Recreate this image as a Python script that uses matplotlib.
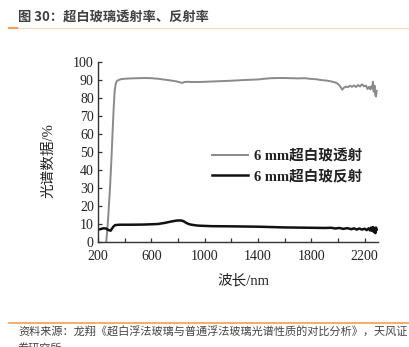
import matplotlib
matplotlib.use('Agg')
import matplotlib.pyplot as plt
from matplotlib.lines import Line2D

# === 光谱数据 (波长 nm, %) ===
trans_wl = [262, 275, 290, 300, 310, 318, 325, 333, 340, 355, 370, 400, 450, 500, 550,
            600, 650, 700, 750, 790, 810, 830, 850, 870, 900, 950, 1000, 1100, 1200,
            1300, 1400, 1450, 1500, 1550, 1600, 1650, 1700, 1750, 1800, 1840, 1870,
            1900, 1930, 1960, 1985, 2005, 2020, 2032, 2045, 2060, 2075, 2090, 2105,
            2120, 2135, 2150, 2165, 2180, 2195, 2210, 2222, 2232, 2242, 2250, 2256,
            2262, 2268, 2274, 2280, 2285, 2290]
trans_val = [0, 12, 30, 45, 62, 75, 84, 88, 89.3, 90.0, 90.4, 90.7, 90.9, 91.0, 91.1,
             91.0, 90.7, 90.2, 89.7, 89.2, 88.8, 88.4, 88.9, 89.0, 88.9, 88.9, 89.0,
             89.3, 89.6, 90.0, 90.3, 90.7, 91.0, 91.1, 91.1, 91.0, 90.9, 91.0, 90.6,
             90.4, 90.0, 89.8, 89.5, 89.0, 88.5, 87.5, 86.0, 84.6, 85.8, 86.3, 86.0,
             86.8, 86.2, 87.0, 86.1, 87.2, 86.4, 87.6, 86.5, 86.9, 85.0, 86.2, 84.8,
             86.5, 85.2, 89.0, 83.5, 86.8, 81.5, 80.8, 84.0]

refl_wl = [200, 220, 240, 260, 280, 295, 310, 320, 330, 360, 450, 550, 650, 700, 750,
           790, 820, 840, 860, 880, 900, 950, 1050, 1200, 1400, 1600, 1800, 1900,
           1950, 1980, 2010, 2040, 2070, 2100, 2120, 2140, 2160, 2180, 2200, 2215,
           2230, 2240, 2248, 2255, 2262, 2268, 2274, 2280, 2285, 2290]
refl_val = [6.8, 7.2, 7.6, 7.5, 6.6, 6.3, 8.0, 8.9, 9.4, 9.6, 9.6, 9.7, 10.0, 10.6,
            11.4, 11.9, 12.0, 11.6, 10.7, 10.0, 9.6, 9.1, 8.8, 8.7, 8.5, 8.1, 7.9, 7.8,
            7.9, 7.5, 7.8, 7.3, 7.7, 7.1, 7.6, 6.9, 7.5, 6.9, 7.4, 6.6, 7.6, 6.4, 8.0,
            6.2, 8.3, 5.6, 7.8, 4.9, 8.0, 6.8]

x_ticks = [200, 600, 1000, 1400, 1800, 2200]
y_ticks = list(range(0, 101, 10))

title = '图 30：超白玻璃透射率、反射率'
source = '资料来源：龙翔《超白浮法玻璃与普通浮法玻璃光谱性质的对比分析》，天风证'
source2 = '券研究所'

serif = ['Liberation Serif', 'Noto Sans CJK SC']
cjk = ['Noto Sans CJK SC', 'DejaVu Sans']

W, H = 409, 347
fig = plt.figure(figsize=(W / 100, H / 100), dpi=100)
ax = fig.add_axes([98 / W, 1 - 242 / H, 280 / W, 180 / H])

ax.plot(trans_wl, trans_val, color='#8a8a8a', lw=1.4, solid_joinstyle='round',
        label='6 mm超白玻透射')
ax.plot(refl_wl, refl_val, color='#111111', lw=1.8, solid_joinstyle='round',
        label='6 mm超白玻反射')

ax.set_xlim(200, 2300)
ax.set_ylim(0, 100)
ax.set_xticks(x_ticks)
ax.set_xticks(range(200, 2300, 200), minor=True)
ax.set_yticks(y_ticks)
for s in ['top', 'right']:
    ax.spines[s].set_visible(False)
for s in ['left', 'bottom']:
    ax.spines[s].set_linewidth(1.0)
    ax.spines[s].set_color('#333333')
ax.tick_params(which='both', direction='in', length=3, width=0.9, color='#333333',
               labelsize=10, labelcolor='#222222')
ax.tick_params(axis='x', pad=6)
ax.tick_params(axis='y', pad=3)
for lab in ax.get_xticklabels() + ax.get_yticklabels():
    lab.set_family(serif)

ax.set_xlabel('波长/nm', family=serif, fontsize=10.5, color='#222222')
ax.set_ylabel('光谱数据/%', family=serif, fontsize=10.5, color='#222222')
ax.xaxis.set_label_coords((243 - 98) / 280, -(274 - 242) / 180)
ax.yaxis.set_label_coords(-(98 - 55) / 280, (242 - 161) / 180)

leg = ax.legend(loc='upper left', bbox_to_anchor=(212 / W, 1 - 149 / H),
                bbox_transform=fig.transFigure, frameon=False, borderpad=0,
                borderaxespad=0, handlelength=2.5, handletextpad=0.4,
                labelspacing=0.45,
                prop={'family': serif, 'size': 10.5, 'weight': 'bold'})
for t in leg.get_texts():
    t.set_color('#222222')

# 标题与来源
fig.text(18 / W, 1 - 17 / H, title, family=cjk, fontsize=9.5, weight='bold',
         color='#404040', va='center', ha='left')
fig.add_artist(Line2D([9 / W, 1], [1 - 27.5 / H] * 2, color='#f8dcc4', lw=0.9))
fig.add_artist(Line2D([9 / W, 17 / W], [1 - 28 / H] * 2, color='#f0a050', lw=1.5))
fig.add_artist(Line2D([9 / W, 1], [1 - 322.5 / H] * 2, color='#f0a050', lw=1.2))
fig.text(18 / W, 1 - 332 / H, source, family=cjk, fontsize=8, color='#444444',
         va='center', ha='left')
fig.text(18 / W, 1 - 348 / H, source2, family=cjk, fontsize=8, color='#444444',
         va='center', ha='left')

fig.savefig('out.png', dpi=100)
